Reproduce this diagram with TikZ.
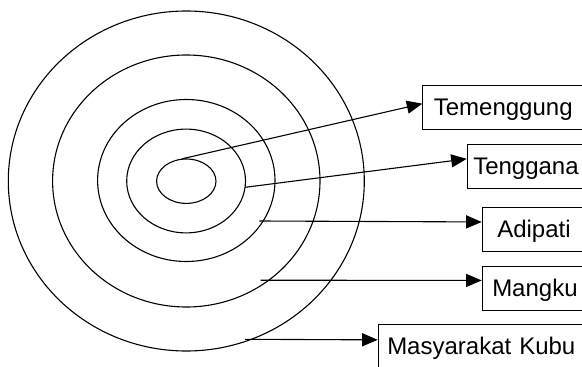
\documentclass[tikz,border=0pt]{standalone}
\usepackage{fontspec}
\setmainfont{Liberation Sans}
\usetikzlibrary{arrows.meta}
\begin{document}
\begin{tikzpicture}[x=1pt,y=-1pt,
  ring/.style={line width=1.1pt},
  conn/.style={line width=1.1pt,-{Triangle[length=15.5pt,width=13pt]}},
  box/.style={draw,line width=1.1pt,anchor=north west,minimum height=44pt,
    inner ysep=0pt,align=left,text width=220pt,text height=17.5pt,text depth=2pt,
    font=\fontsize{24}{28}\selectfont}]
\useasboundingbox (0,0) rectangle (582,367);
\fill[white] (0,0) rectangle (582,367);
\clip (0,0) rectangle (582,367);
% rings
\draw[ring] (186.3,181) ellipse [x radius=178pt,y radius=170pt];
\draw[ring] (186.3,181) ellipse [x radius=133.7pt,y radius=126pt];
\draw[ring] (186.3,180.5) ellipse [x radius=88.7pt,y radius=81pt];
\draw[ring] (186.1,181) ellipse [x radius=59.4pt,y radius=51.9pt];
\draw[ring] (186.3,181.2) ellipse [x radius=29.7pt,y radius=22.2pt];
% boxes
\node[box,inner xsep=11pt] (tem) at (422.3,85) {Temenggung};
\node[box,inner xsep=6pt] (ten) at (466.7,144.3) {Tenggana};
\node[box,inner xsep=15pt] (adi) at (481.7,206.7) {Adipati};
\node[box,inner xsep=10pt] (man) at (481.7,265.7) {Mangku};
\node[box,inner xsep=9pt] (mas) at (377.7,323.8) {Masyarakat Kubu};
% start points
\coordinate (s1) at (182,158.8);
\coordinate (s2) at (245.3,187.3);
\coordinate (s3) at (259.3,221);
\coordinate (s4) at (260.7,280.2);
\coordinate (s5) at (245,339.3);
% connectors
\draw[conn] (s1) -- ([yshift=3.9pt]tem.west);
\draw[conn] (s2) -- ([yshift=8pt]ten.west);
\draw[conn] (s3) -- ([yshift=7.3pt]adi.west);
\draw[conn] (s4) -- ([yshift=7.8pt]man.west);
\draw[conn] (s5) -- ([yshift=6.5pt]mas.west);
\end{tikzpicture}
\end{document}
